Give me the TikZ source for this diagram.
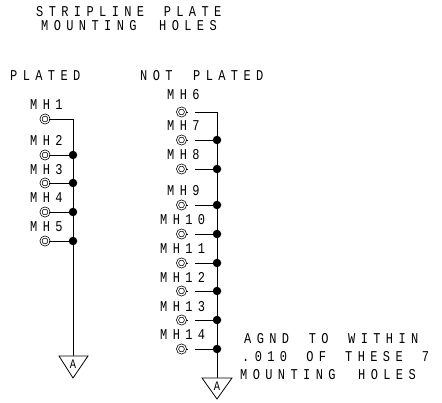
\documentclass[tikz,border=0pt]{standalone}
\usepackage{fontspec}
\setmainfont[LetterSpace=36,FakeStretch=0.8]{Liberation Mono}
\newcommand\wgap[1]{\hspace{#1pt}}
\tikzset{
  lab/.style={anchor=west,inner sep=0pt,text height=9pt,text depth=0pt,font=\fontsize{15pt}{16pt}\selectfont},
  hole/.style={circle,draw,line width=.7pt,double,double distance=1.2pt,minimum size=8pt,inner sep=0pt},
  junction/.style={circle,fill=black,minimum size=8.5pt,inner sep=0pt},
  wire/.style={line width=.8pt},
  gnd/.style={line width=.8pt,fill=white},
  gndlab/.style={inner sep=0pt,font=\fontsize{13pt}{14pt}\selectfont\addfontfeature{LetterSpace=0}}
}
\begin{document}
\begin{tikzpicture}[x=1pt,y=-1pt]
\useasboundingbox (0,0) rectangle (442,403);
\node[lab] (t1) at (36,12) {STRIPLINE \wgap{7}PLATE};
\node[lab] (t2) at (41,26) {MOUNTING \wgap{10}HOLES};
\node[lab] (pl) at (10,76) {PLATED};
\node[lab] (np) at (140,76) {NOT \wgap{8}PLATED};
% plated
\foreach \n/\y/\ly in {1/119/105,2/155/141,3/183/170,4/212/198,5/241/227}{
  \node[lab] (lm\n) at (30,\ly) {MH\n};
  \node[hole] (h\n) at (45,\y) {};
}
\foreach \n/\y in {2/155,3/183,4/212,5/241}{
  \node[junction] (j\n) at (73,\y) {};
  \draw[wire] (h\n) -- (j\n);
}
\coordinate (c1) at (73,119);
\coordinate (gt1) at (73,356);
\draw[wire] (h1) -- (c1) -- (gt1);
\coordinate (gl1) at (59,356);
\coordinate (gr1) at (88,356);
\coordinate (ga1) at (73,378);
\draw[gnd] (gl1) -- (gr1) -- (ga1) -- cycle;
\node[gndlab] (a1) at (73,364) {A};
% not plated
\foreach \n/\y/\ly/\lx in {6/112/95/167,7/140/126/167,8/169/155/167,9/205/191/167,10/234/220/160,11/263/249/160,12/291/278/160,13/320/307/160,14/349/335/160}{
  \node[lab] (lm\n) at (\lx,\ly) {MH\n};
  \node[hole] (h\n) at (181.5,\y) {};
  \coordinate (s\n) at (188,\y);
  \coordinate (g\n) at (195,\y);
  \draw[wire] (h\n) -- (s\n);
}
\foreach \n/\y in {7/140,8/169,9/205,10/234,11/263,12/291,13/320,14/349}{
  \node[junction] (j\n) at (217,\y) {};
  \draw[wire] (g\n) -- (j\n);
}
\coordinate (c6) at (217,112);
\coordinate (gt2) at (217,378);
\draw[wire] (g6) -- (c6) -- (gt2);
\coordinate (gl2) at (202,378);
\coordinate (gr2) at (232,378);
\coordinate (ga2) at (217,399);
\draw[gnd] (gl2) -- (gr2) -- (ga2) -- cycle;
\node[gndlab] (a2) at (217,386) {A};
% note
\node[lab] (n1) at (244,339) {AGND \wgap{7}TO \wgap{7}WITHIN};
\node[lab] (n2) at (242,357) {.010 \wgap{6.5}OF \wgap{6.5}THESE \wgap{6.5}7};
\node[lab] (n3) at (240,375) {MOUNTING \wgap{10}HOLES};
\end{tikzpicture}
\end{document}
